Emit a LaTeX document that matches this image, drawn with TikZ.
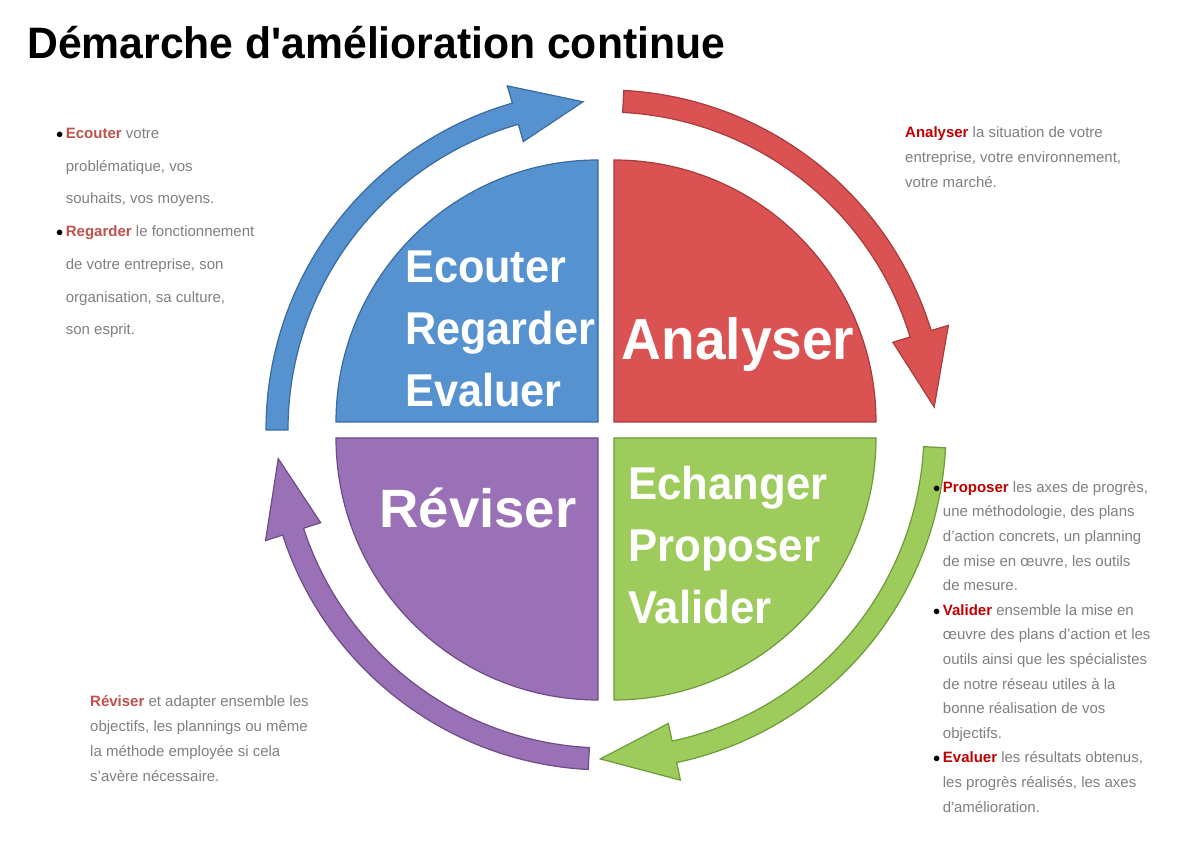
\documentclass[tikz,border=0pt]{standalone}
\usepackage{fontspec}
\usepackage{graphicx}
\setmainfont{Liberation Sans}
\definecolor{cblue}{HTML}{5592CF}\definecolor{dblue}{HTML}{3A6A9E}
\definecolor{cred}{HTML}{DA5252}\definecolor{dred}{HTML}{A83C3C}
\definecolor{cgreen}{HTML}{9DCB5C}\definecolor{dgreen}{HTML}{6F9A3A}
\definecolor{cpurp}{HTML}{9A70B6}\definecolor{dpurp}{HTML}{6E4C88}
\definecolor{gtxt}{HTML}{7F7F7F}\definecolor{kw1}{HTML}{C0504D}\definecolor{kw2}{HTML}{C00000}
\newcommand{\ringarrow}[4]{%
 \filldraw[fill=c#4, draw=d#4, line width=1.2pt, shift={(606,420)}]
 (#1:318) arc[start angle=#1, end angle=#2, radius=318] -- (#2:300) -- (#3:329) -- (#2:358) -- (#2:340)
 arc[start angle=#2, end angle=#1, radius=340] -- cycle;}
\newcommand{\kwa}[1]{\textcolor{kw1}{\textbf{#1}}}
\newcommand{\kwb}[1]{\textcolor{kw2}{\textbf{#1}}}
\newcommand{\bul}{\textcolor{black}{$\bullet$}\,}
\newcommand{\nob}{\phantom{$\bullet$\,}}
\tikzset{pielbl/.style={text=white, font=\bfseries\fontsize{46}{62}\selectfont, align=left, inner sep=0},
 side/.style={text=gtxt, font=\fontsize{15}{25}\selectfont, align=left, inner sep=0, anchor=north west}}
\begin{document}
\begin{tikzpicture}[x=1pt,y=1pt]
\useasboundingbox (0,0) rectangle (1200,850);
\node[anchor=west, inner sep=0] (title) at (27,807) {\scalebox{0.97}[1]{\bfseries\fontsize{44}{50}\selectfont Démarche d\textquotesingle amélioration continue}};
% pies
\filldraw[fill=cblue, draw=dblue, line width=1.2pt] (598,428) -- (336,428) arc[start angle=180, end angle=90, radius=262] -- cycle;
\filldraw[fill=cred, draw=dred, line width=1.2pt] (614,428) -- (614,690) arc[start angle=90, end angle=0, radius=262] -- cycle;
\filldraw[fill=cgreen, draw=dgreen, line width=1.2pt] (614,412) -- (876,412) arc[start angle=0, end angle=-90, radius=262] -- cycle;
\filldraw[fill=cpurp, draw=dpurp, line width=1.2pt] (598,412) -- (598,150) arc[start angle=-90, end angle=-180, radius=262] -- cycle;
% arrows
\ringarrow{180}{106}{94}{blue}
\ringarrow{87}{17}{4}{red}
\ringarrow{-3}{-78}{-91}{green}
\ringarrow{-93}{-162}{-175}{purp}
% pie labels
\node[pielbl, anchor=west] (l1) at (405,521) {\scalebox{0.94}[1]{\parbox{240pt}{Ecouter\\Regarder\\Evaluer}}};
\node[pielbl, anchor=center, font=\bfseries\fontsize{58}{62}\selectfont] (l2) at (738,505) {\scalebox{0.95}[1]{Analyser}};
\node[pielbl, anchor=center, font=\bfseries\fontsize{54}{62}\selectfont] (l4) at (478,342) {\scalebox{1.01}[1]{Réviser}};
\node[pielbl, anchor=west] (l3) at (628,305) {\scalebox{0.95}[1]{\parbox{240pt}{Echanger\\Proposer\\Valider}}};
% side texts
\node[side, font=\fontsize{15}{32.7}\selectfont] (t1) at (56,722) {\bul\kwa{Ecouter} votre\\\nob problématique, vos\\\nob souhaits, vos moyens.\\\bul\kwa{Regarder} le fonctionnement\\\nob de votre entreprise, son\\\nob organisation, sa culture,\\\nob son esprit.};
\node[side] (t2) at (905,724) {\kwb{Analyser} la situation de votre\\entreprise, votre environnement,\\votre marché.};
\node[side, font=\fontsize{15}{24.6}\selectfont] (t3) at (933,369) {\bul\kwb{Proposer} les axes de progrès,\\\nob une méthodologie, des plans\\\nob d’action concrets, un planning\\\nob de mise en œuvre, les outils\\\nob de mesure.\\\bul\kwb{Valider} ensemble la mise en\\\nob œuvre des plans d’action et les\\\nob outils ainsi que les spécialistes\\\nob de notre réseau utiles à la\\\nob bonne réalisation de vos\\\nob objectifs.\\\bul\kwb{Evaluer} les résultats obtenus,\\\nob les progrès réalisés, les axes\\\nob d\textquotesingle amélioration.};
\node[side] (t4) at (90,155) {\kwa{Réviser} et adapter ensemble les\\objectifs, les plannings ou même\\la méthode employée si cela\\s’avère nécessaire.};
\end{tikzpicture}
\end{document}
